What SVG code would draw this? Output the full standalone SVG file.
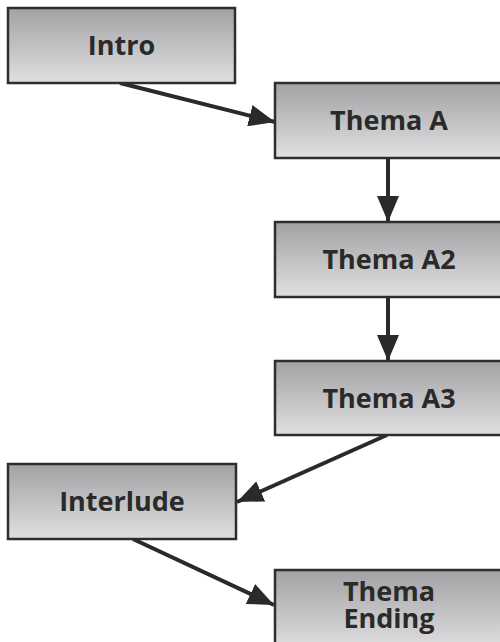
<svg xmlns="http://www.w3.org/2000/svg" width="500" height="642" viewBox="0 0 500 642">
<defs>
<linearGradient id="g" x1="0" y1="0" x2="0" y2="1">
<stop offset="0" stop-color="#a2a2a4"/>
<stop offset="1" stop-color="#e0e0e2"/>
</linearGradient>
<marker id="ah" viewBox="0 0 26 22" refX="26" refY="11" markerWidth="26" markerHeight="22" markerUnits="userSpaceOnUse" orient="auto">
<path d="M0,0 L26,11 L0,22 Z" fill="#2a2a2a"/>
</marker>
<style>
.box{fill:url(#g);stroke:#2e2e2e;stroke-width:2.5}
.lbl{font-family:"Open Sans","DejaVu Sans",sans-serif;font-weight:bold;font-size:27px;fill:#2a2a2a;text-anchor:middle}
.c{stroke:#2a2a2a;stroke-width:4;fill:none;marker-end:url(#ah)}
</style>
</defs>
<rect width="500" height="642" fill="#fff"/>
<g id="connectors">
<line class="c" x1="120" y1="83" x2="275" y2="122"/>
<line class="c" x1="388" y1="158" x2="388" y2="222"/>
<line class="c" x1="388" y1="297" x2="388" y2="361"/>
<line class="c" x1="387" y1="435" x2="237" y2="502"/>
<line class="c" x1="133" y1="539" x2="274" y2="605"/>
</g>
<g id="intro"><rect class="box" x="8" y="8" width="227" height="75"/><text class="lbl" x="121.5" y="55">Intro</text></g>
<g id="themaA"><rect class="box" x="275" y="83" width="228" height="75"/><text class="lbl" x="389" y="130">Thema A</text></g>
<g id="themaA2"><rect class="box" x="275" y="222" width="228" height="75"/><text class="lbl" x="389" y="269">Thema A2</text></g>
<g id="themaA3"><rect class="box" x="275" y="361" width="228" height="74"/><text class="lbl" x="389" y="408">Thema A3</text></g>
<g id="interlude"><rect class="box" x="8" y="464" width="228" height="75"/><text class="lbl" x="122" y="511">Interlude</text></g>
<g id="themaEnding"><rect class="box" x="275" y="570" width="228" height="80"/><text class="lbl" x="389" y="601">Thema</text><text class="lbl" x="389" y="628">Ending</text></g>
</svg>
